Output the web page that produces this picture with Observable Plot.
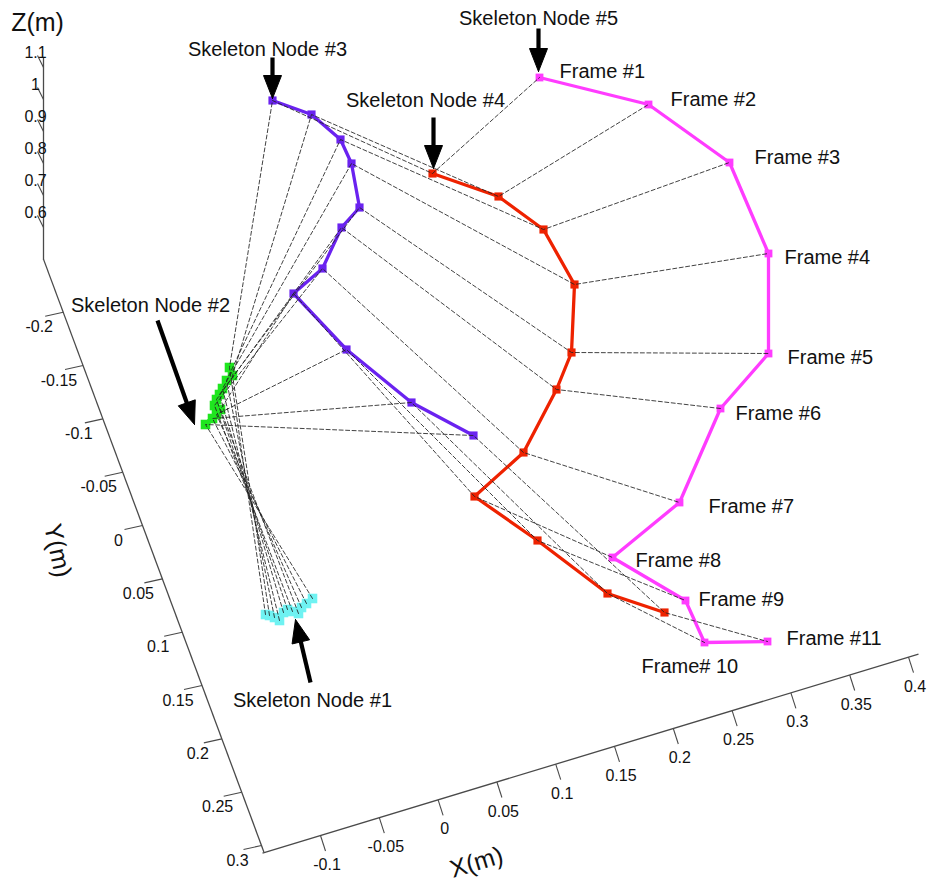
<!DOCTYPE html>
<html>
<head>
<meta charset="utf-8">
<script src="https://cdn.jsdelivr.net/npm/d3@7"></script>
<script src="https://cdn.jsdelivr.net/npm/@observablehq/plot@0.6"></script>
<style>
  html, body { margin: 0; padding: 0; background: #fff; }
  #chart svg { display: block; }
</style>
</head>
<body>
<div id="chart"></div>
<script>
// ---------- DATA (projected view-plane coordinates u, v of each skeleton node per frame) ----------
const frameLabels = ["Frame #1","Frame #2","Frame #3","Frame #4","Frame #5","Frame #6","Frame #7","Frame #8","Frame #9","Frame# 10","Frame #11"];

const node1U = [265, 269, 274, 279, 283, 287, 292, 298, 301, 306, 312];
const node1V = [614, 615, 617, 620, 612, 609, 611, 613, 607, 603, 598];

const node2U = [229, 232, 226, 222, 219, 216, 214, 220, 216, 212, 205];
const node2V = [367, 375, 380, 388, 394, 399, 405, 409, 414, 418, 424];

const node3U = [272, 311, 340, 351, 359, 341, 322, 293, 346, 411, 473];
const node3V = [100, 114, 139, 163, 207, 227, 268, 293, 349, 402, 435];

const node4U = [432, 498, 543, 574, 571, 556, 523, 474, 537, 607, 664];
const node4V = [173, 196, 229, 284, 352, 389, 452, 496, 540, 593, 612];

const node5U = [539, 648, 729, 768, 768, 720, 679, 612, 685, 704, 767];
const node5V = [77, 104, 162, 253, 353, 408, 502, 557, 600, 642, 641];

const nodeNames = ["Skeleton Node #1","Skeleton Node #2","Skeleton Node #3","Skeleton Node #4","Skeleton Node #5"];

const xTicks = [-0.1, -0.05, 0, 0.05, 0.1, 0.15, 0.2, 0.25, 0.3, 0.35, 0.4];
const yTicks = [-0.2, -0.15, -0.1, -0.05, 0, 0.05, 0.1, 0.15, 0.2, 0.25, 0.3];
const zTicks = [0.6, 0.7, 0.8, 0.9, 1, 1.1];

// ---------- LAYOUT / STYLE ----------
const W = 939, H = 882;
const FONT = "Liberation Sans, Arial, Helvetica, sans-serif";
const nodeStyle = [
  {color: "#6ff2f2", width: 5, r: 5.4},
  {color: "#1fe61f", width: 5, r: 5.4},
  {color: "#6a22f0", width: 3.3, r: 4.6},
  {color: "#ee2200", width: 3.3, r: 4.6},
  {color: "#ff3cff", width: 3.3, r: 4.4}
];
// frame label offsets from node 5
const labelDx = [20, 22, 25, 16, 19, 15, 29, 23, 13, -63, 19];
const labelDy = [-6, -5, -5, 4, 4, 5, 4, 3, -1, 24, -3];
// annotation text centres and arrows (tail -> tip)
const annText = [[312, 700], [150, 305], [267, 49], [425, 100], [538, 18]];
const annArrow = [[[310, 682], [295, 619]], [[157, 320], [194, 424]], [[272, 57], [272, 98]], [[433, 117], [433, 168]], [[538, 28], [538, 71]]];

// 3-D axes drawn in the view plane: value v0 at p0, v1 at p1
const axes = {
  z: {v0: 0.6, p0: [43, 227], v1: 1.1, p1: [43, 67], from: 0.5, to: 1.13, tick: [-6, -12], lab: [-2, -3], anchor: "end"},
  y: {v0: -0.2, p0: [62.7, 311.7], v1: 0.3, p1: [261, 845], from: -0.25, to: 0.306, tick: [-18, 4], lab: [-6, 11], anchor: "end"},
  x: {v0: -0.1, p0: [320, 835], v1: 0.4, p1: [908, 656.7], from: -0.1493, to: 0.4085, tick: [5, 15.5], lab: [1.5, 14], anchor: "start"}
};
function axisPoint(a, v) {
  const t = (v - a.v0) / (a.v1 - a.v0);
  return [a.p0[0] + t * (a.p1[0] - a.p0[0]), a.p0[1] + t * (a.p1[1] - a.p0[1])];
}
const fmt = v => String(+v.toFixed(2));

// ---------- TABLES ----------
const nodeU = [node1U, node2U, node3U, node4U, node5U];
const nodeV = [node1V, node2V, node3V, node4V, node5V];
const rows = [];
nodeU.forEach((us, n) => us.forEach((u, f) => rows.push({node: n, frame: f, u, v: nodeV[n][f]})));
const byFrame = d3.sort(rows, d => d.frame, d => d.node);

const axisLines = Object.values(axes).map(a => ({p: axisPoint(a, a.from), q: axisPoint(a, a.to)}));
const tickRows = [];
for (const [key, ticks] of [["z", zTicks], ["y", yTicks], ["x", xTicks]]) {
  const a = axes[key];
  for (const t of ticks) {
    const p = axisPoint(a, t);
    const q = [p[0] + a.tick[0], p[1] + a.tick[1]];
    tickRows.push({axis: key, value: t, p, q, l: [q[0] + a.lab[0], q[1] + a.lab[1]], anchor: a.anchor});
  }
}

// arrowheads as filled triangles
const headRows = [];
annArrow.forEach(([t, h], i) => {
  const dx = h[0] - t[0], dy = h[1] - t[1], len = Math.hypot(dx, dy);
  const ux = dx / len, uy = dy / len, L = 23, Wd = 9;
  const bx = h[0] - ux * L, by = h[1] - uy * L;
  headRows.push({i, x: h[0], y: h[1]});
  headRows.push({i, x: bx - uy * Wd, y: by + ux * Wd});
  headRows.push({i, x: bx + uy * Wd, y: by - ux * Wd});
  headRows.push({i, x: h[0], y: h[1]});
});
const shaftRows = annArrow.map(([t, h]) => {
  const dx = h[0] - t[0], dy = h[1] - t[1], len = Math.hypot(dx, dy);
  return {t, e: [h[0] - dx / len * 18, h[1] - dy / len * 18]};
});

// ---------- MARKS ----------
const marks = [];
// axes
marks.push(Plot.link(axisLines, {x1: d => d.p[0], y1: d => d.p[1], x2: d => d.q[0], y2: d => d.q[1], stroke: "#4a4a4a", strokeWidth: 1.3}));
marks.push(Plot.link(tickRows, {x1: d => d.p[0], y1: d => d.p[1], x2: d => d.q[0], y2: d => d.q[1], stroke: "#4a4a4a", strokeWidth: 1.1}));
marks.push(Plot.text(tickRows, {x: d => d.l[0], y: d => d.l[1], text: d => fmt(d.value), textAnchor: d => d.anchor, fontSize: 16, fill: "#111", fontFamily: FONT}));
// axis titles
marks.push(Plot.text(["Z(m)"], {x: () => 37, y: () => 22, text: d => d, fontSize: 25, fill: "#111", fontFamily: FONT}));
marks.push(Plot.text(["Y(m)"], {x: () => 57, y: () => 550, text: d => d, fontSize: 25, fill: "#111", rotate: 78, fontFamily: FONT}));
marks.push(Plot.text(["X(m)"], {x: () => 476, y: () => 862, text: d => d, fontSize: 25, fill: "#111", rotate: -17, fontFamily: FONT}));
// trajectories of each node
nodeStyle.forEach((s, n) => {
  const data = rows.filter(d => d.node === n);
  marks.push(Plot.line(data, {x: "u", y: "v", stroke: s.color, strokeWidth: s.width, strokeLinejoin: "miter", curve: "linear"}));
  marks.push(Plot.dot(data, {x: "u", y: "v", symbol: "square", r: s.r, fill: s.color, stroke: "none"}));
});
// skeleton links within each frame (dashed)
marks.push(Plot.line(byFrame, {x: "u", y: "v", z: "frame", stroke: "#222", strokeWidth: 0.95, strokeOpacity: 0.9, strokeDasharray: "4,2.5"}));
// frame labels
marks.push(Plot.text(frameLabels, {x: (d, i) => node5U[i] + labelDx[i], y: (d, i) => node5V[i] + labelDy[i], text: d => d, textAnchor: "start", fontSize: 20, fill: "#111", fontFamily: FONT}));
// annotations
marks.push(Plot.text(nodeNames, {x: (d, i) => annText[i][0], y: (d, i) => annText[i][1], text: d => d, fontSize: 20, fill: "#111", fontFamily: FONT}));
marks.push(Plot.link(shaftRows, {x1: d => d.t[0], y1: d => d.t[1], x2: d => d.e[0], y2: d => d.e[1], stroke: "#000", strokeWidth: 4.2}));
marks.push(Plot.line(headRows, {x: "x", y: "y", z: "i", fill: "#000", stroke: "#000", strokeWidth: 1}));

const chart = Plot.plot({
  width: W, height: H, margin: 0,
  x: {domain: [0, W], range: [0, W], axis: null},
  y: {domain: [0, H], range: [0, H], axis: null},
  style: {background: "#fff", fontFamily: FONT},
  marks
});
document.getElementById("chart").appendChild(chart);
</script>
</body>
</html>
